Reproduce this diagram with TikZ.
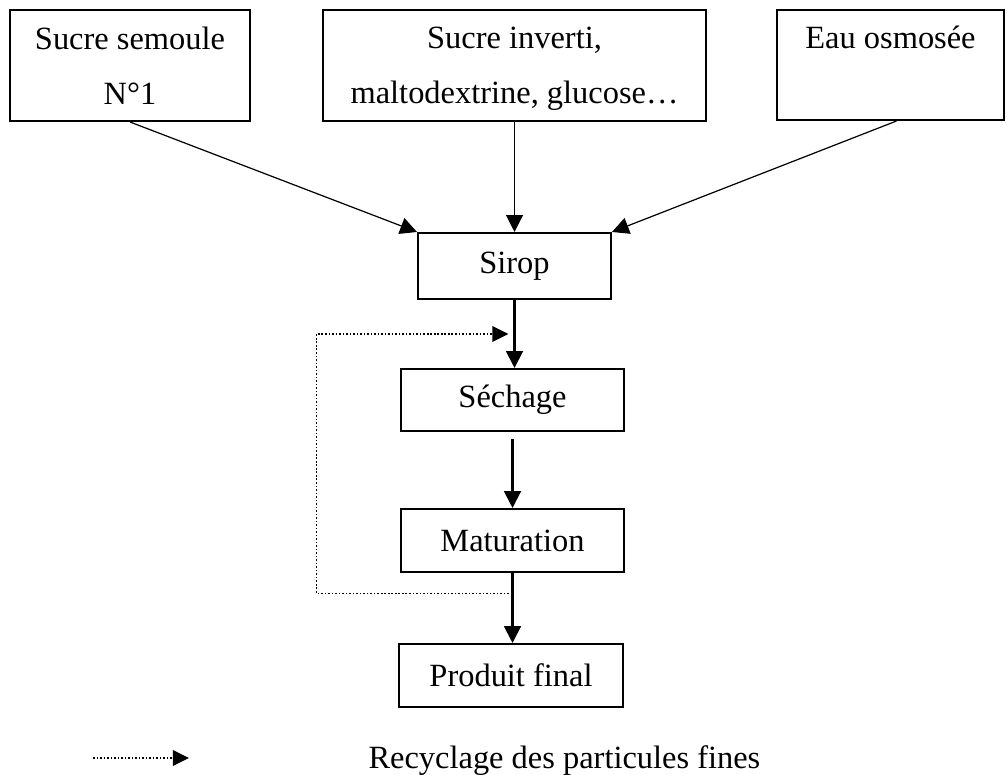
\documentclass[tikz,border=0pt]{standalone}
\usepackage{fontspec}
\setmainfont{Liberation Serif}
\usepackage{tikz}
\usetikzlibrary{positioning, arrows.meta, calc}
\def\pxu{0.37pt}
\tikzset{
    stepbox/.style={rectangle, draw, line width=0.75pt, align=center, inner sep=0pt,
        font=\fontsize{12}{20.35}\selectfont},
    flow/.style={-{Triangle[length=6.2pt, width=6.2pt]}, line width=0.75pt},
    inflow/.style={flow, line width=0.45pt},
    recycle/.style={-{Triangle[length=6pt, width=5.8pt]}, line width=0.55pt,
        dash pattern=on 0.6pt off 0.7pt}
}
\begin{document}
\begin{tikzpicture}[x=\pxu, y=-\pxu]
    \useasboundingbox (0,0) rectangle (1007,775);
    \node[stepbox, minimum width=240*\pxu, minimum height=111*\pxu] (semoule) at (130,65.5) {Sucre semoule\\N°1};
    \node[stepbox, minimum width=383*\pxu, minimum height=111*\pxu, text depth=0pt] (inverti) at (514.5,65.5) {Sucre inverti,\\maltodextrine, glucose…};
    \node[stepbox, minimum width=227*\pxu, minimum height=110*\pxu] (eau) at (890.5,65) {Eau osmosée\\~};
    \node[stepbox, minimum width=193*\pxu, minimum height=66*\pxu] (sirop) at (514.5,266) {Sirop};
    \node[stepbox, minimum width=223*\pxu, minimum height=62*\pxu] (sechage) at (512.5,400) {Séchage};
    \node[stepbox, minimum width=223*\pxu, minimum height=63*\pxu] (maturation) at (512.5,540.5) {Maturation};
    \node[stepbox, minimum width=224*\pxu, minimum height=63*\pxu] (produit) at (511,675.5) {Produit final};
    \draw[inflow] (semoule.south) -- (sirop.north west);
    \draw[inflow] (inverti.south) -- (sirop.north);
    \draw[inflow] ([xshift=6*\pxu]eau.south) -- (sirop.north east);
    \draw[flow] (sirop.south) -- (sirop.south |- sechage.north);
    \draw[flow, shorten <=7*\pxu] (sechage.south) -- (maturation.north);
    \draw[flow] (maturation.south) -- (maturation.south |- produit.north);
    \coordinate (recA) at ($(maturation.south)!0.29!(maturation.south |- produit.north)$);
    \coordinate (recB) at ($(sirop.south)!0.5!(sirop.south |- sechage.north)$);
    \draw[recycle, shorten >=6*\pxu] (recA) -- ++(-196,0) |- (recB);
    \coordinate (legA) at (93,758);
    \draw[recycle] (legA) -- ++(96,0);
    \node[anchor=base west, inner sep=0pt, font=\fontsize{12}{14}\selectfont] (legtext) at (368,768) {Recyclage des particules fines};
\end{tikzpicture}
\end{document}
